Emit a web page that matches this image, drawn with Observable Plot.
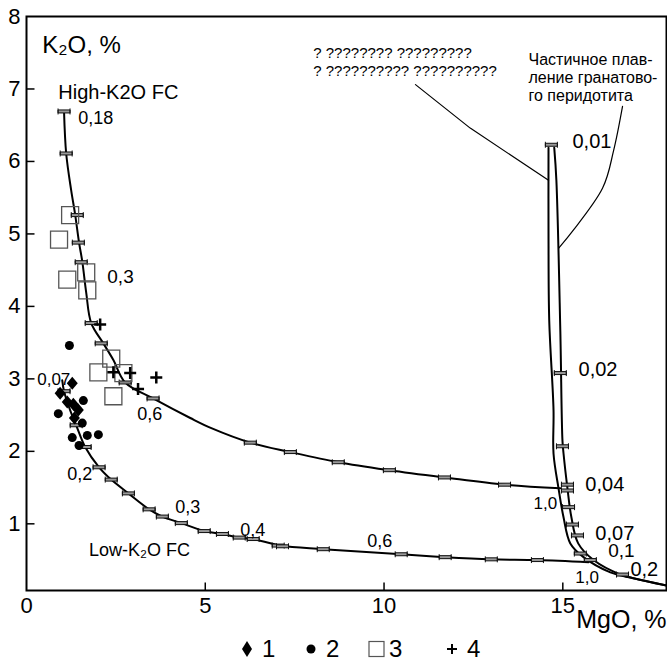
<!DOCTYPE html>
<html><head><meta charset="utf-8">
<script src="https://cdn.jsdelivr.net/npm/d3@7"></script>
<script src="https://cdn.jsdelivr.net/npm/@observablehq/plot@0.6"></script>
<style>
body{margin:0;background:#fff;font-family:"Liberation Sans",Arial,sans-serif;}
#wrap{position:relative;width:667px;height:664px;}
#legend{position:absolute;left:0;top:634px;width:667px;height:30px;}
</style></head><body><div id="wrap"><div id="chart"></div><div id="legend"></div></div>
<script>
// ---- axes ----
const xTicks = [0, 5, 10, 15];
const yTicks = [1, 2, 3, 4, 5, 6, 7, 8];

// ---- High-K2O fractional crystallization curve ----
const highX = [1.05,1.11,1.25,1.36,1.47,1.56,1.67,1.81,2.15,2.43,2.76,3.54,4.58,5.17,6.26,7.38,8.72,10.15,11.69,13.37,14.93];
const highY = [6.69,6.11,5.60,5.27,4.88,4.62,4.19,3.77,3.49,3.26,2.95,2.73,2.46,2.32,2.12,1.99,1.85,1.74,1.64,1.54,1.49];
const highTickX = [1.05,1.11,1.42,1.45,1.53,1.81,2.09,2.76,3.54,6.26,7.38,8.72,10.15,11.69,13.37];
const highTickY = [6.69,6.11,5.26,4.88,4.61,3.77,3.49,2.95,2.73,2.12,1.99,1.85,1.74,1.64,1.54];

// ---- Low-K2O fractional crystallization curve ----
const lowX = [1.00,1.05,1.22,1.39,1.64,2.03,2.37,2.85,3.43,3.80,4.33,4.97,5.48,5.95,6.34,7.10,8.30,10.48,11.71,13.00,14.29,15.72];
const lowY = [2.98,2.83,2.57,2.36,2.06,1.78,1.61,1.42,1.20,1.10,1.01,0.90,0.86,0.81,0.79,0.70,0.65,0.58,0.54,0.51,0.50,0.47];
const lowTickX = [1.05,1.39,1.64,2.03,2.37,2.85,3.43,3.80,4.33,4.97,5.48,5.95,6.34,7.04,7.16,8.30,10.48,11.71,13.00,14.29];
const lowTickY = [2.83,2.36,2.06,1.78,1.61,1.42,1.20,1.10,1.01,0.90,0.86,0.81,0.79,0.70,0.69,0.65,0.58,0.54,0.51,0.50];

// ---- Partial melting of garnet peridotite (double line) ----
const meltLX = [14.60,14.60,14.62,14.74,14.74,14.88,15.02,15.21,15.58,16.33,16.97,17.90];
const meltLY = [6.19,5.00,3.81,2.57,1.97,1.49,1.09,0.73,0.54,0.33,0.25,0.15];
const meltRX = [14.76,14.82,14.93,14.99,15.02,15.13,15.24,15.43,15.86,16.61,16.97,17.90];
const meltRY = [6.19,5.74,3.67,2.15,1.97,1.49,1.09,0.73,0.50,0.30,0.25,0.15];
const meltTickX = [14.68,14.93,14.99,15.13,15.13,15.16,15.27,15.41,15.49,15.77,16.67];
const meltTickY = [6.23,3.08,2.07,1.54,1.46,1.23,0.99,0.84,0.59,0.50,0.30];

// ---- samples ----
const s1X = [1.28,0.94,1.14,1.31,1.45,1.34];
const s1Y = [2.94,2.80,2.68,2.65,2.57,2.46];
const s2X = [1.20,0.89,1.59,1.56,1.28,1.70,2.01,1.47];
const s2Y = [3.46,2.52,2.70,2.39,2.19,2.22,2.23,2.08];
const s3X = [1.22,0.91,1.67,1.14,1.70,2.37,2.01,2.71,2.43];
const s3Y = [5.26,4.92,4.47,4.37,4.22,3.28,3.09,3.08,2.76];
const s4X = [2.06,2.43,2.90,3.63,3.12];
const s4Y = [3.75,3.09,3.08,3.02,2.86];

// ---- labels ----
const labelText = ["0,18","0,3","0,6","0,07","0,2","0,3","0,4","0,6","1,0","0,04","0,07","0,1","0,2","1,0","0,02","0,01"];
const labelX = [1.45,2.26,3.10,0.30,1.14,4.16,5.98,9.53,14.18,15.63,15.91,16.27,16.89,15.35,15.44,15.27];
const labelY = [6.59,4.41,2.51,2.99,1.68,1.23,0.91,0.76,1.28,1.54,0.87,0.63,0.37,0.26,3.13,6.28];
const labelSize = [18,19,18,17,18,18,18,18,17,20,20,19,20,17,20,20];

const titleText = ["K₂O, %","High-K2O FC","Low-K₂O FC"];
const titleX = [0.44,0.89,1.75];
const titleY = [7.60,6.95,0.63];
const titleSize = [24,20,18];

const noteQ = "? ???????? ?????????\n? ?????????? ??????????";
const noteQX = [8.02], noteQY = [7.38];
const noteRu = "Частичное плав-\nление гранатово-\nго перидотита";
const noteRuX = [14.04], noteRuY = [7.16];
const leaderAX = [10.88,12.41,14.60], leaderAY = [7.06,6.46,5.74];
const leaderBX = [16.67,16.42,16.11,14.88], leaderBY = [6.76,6.15,5.63,4.80];

const xLabel = "MgO, %";
const legendLabels = ["1","2","3","4"];

// ---- helpers ----
const pts = (xs, ys) => xs.map((x, i) => ({x, y: ys[i]}));
const vTick = {draw(c){c.moveTo(0,0);c.lineTo(0,-8);}};
const hTick = {draw(c){c.moveTo(0,0);c.lineTo(8,0);}};
const errBar = {draw(c){
  c.moveTo(-6,-3);c.lineTo(-6,3);c.moveTo(6,-3);c.lineTo(6,3);
  c.moveTo(-6,-1.5);c.lineTo(6,-1.5);c.lineTo(6,1.5);c.lineTo(-6,1.5);c.closePath();}};
const plusSym = {draw(c){c.moveTo(-6,0);c.lineTo(6,0);c.moveTo(0,-6);c.lineTo(0,6);}};
const diamondSym = {draw(c){c.moveTo(0,-6.5);c.lineTo(5.5,0);c.lineTo(0,6.5);c.lineTo(-5.5,0);c.closePath();}};
const squareSym = {draw(c){c.rect(-8.5,-8.5,17,17);}};
const yMin = 0.08;

const chart = Plot.plot({
  width: 667, height: 634,
  marginLeft: 26, marginRight: 1, marginTop: 16, marginBottom: 44,
  x: {domain: [0, 17.9]},
  y: {domain: [yMin, 8]},
  style: {fontFamily: '"Liberation Sans", Arial, sans-serif', fontSize: "22px", color: "black", background: "white"},
  marks: [
    Plot.axisX(xTicks, {tickSize: 0, tickPadding: 7, fontSize: 22, label: null, tickFormat: d => String(d)}),
    Plot.axisY(yTicks, {tickSize: 0, tickPadding: 6, fontSize: 22, label: null, tickFormat: d => String(d)}),
    Plot.dot(xTicks.slice(1), {x: d => d, y: () => yMin, symbol: vTick, stroke: "black", strokeWidth: 1.5}),
    Plot.dot(yTicks.slice(0, 7), {x: () => 0, y: d => d, symbol: hTick, stroke: "black", strokeWidth: 1.5}),
    // leaders
    Plot.line(pts(leaderAX, leaderAY), {x: "x", y: "y", stroke: "black", strokeWidth: 1.2}),
    Plot.line(pts(leaderBX, leaderBY), {x: "x", y: "y", stroke: "black", strokeWidth: 1.2, curve: "catmull-rom"}),
    // curves
    Plot.line(pts(highX, highY), {x: "x", y: "y", curve: "catmull-rom", stroke: "black", strokeWidth: 2}),
    Plot.line(pts(lowX, lowY), {x: "x", y: "y", curve: "catmull-rom", stroke: "black", strokeWidth: 2}),
    Plot.line(pts(meltLX, meltLY), {x: "x", y: "y", curve: "catmull-rom", stroke: "black", strokeWidth: 2}),
    Plot.line(pts(meltRX, meltRY), {x: "x", y: "y", curve: "catmull-rom", stroke: "black", strokeWidth: 2}),
    // error-bar marks
    Plot.dot(pts(highTickX, highTickY), {x: "x", y: "y", symbol: errBar, fill: "#999", stroke: "#111", strokeWidth: 1}),
    Plot.dot(pts(lowTickX, lowTickY), {x: "x", y: "y", symbol: errBar, fill: "#999", stroke: "#111", strokeWidth: 1}),
    Plot.dot(pts(meltTickX, meltTickY), {x: "x", y: "y", symbol: errBar, fill: "#999", stroke: "#111", strokeWidth: 1}),
    // samples
    Plot.dot(pts(s3X, s3Y), {x: "x", y: "y", symbol: squareSym, fill: "none", stroke: "#555", strokeWidth: 1.3}),
    Plot.dot(pts(s2X, s2Y), {x: "x", y: "y", r: 4.5, fill: "black"}),
    Plot.dot(pts(s1X, s1Y), {x: "x", y: "y", symbol: diamondSym, fill: "black"}),
    Plot.dot(pts(s4X, s4Y), {x: "x", y: "y", symbol: plusSym, stroke: "black", strokeWidth: 2.5}),
    // labels
    Plot.text(labelText, {x: (d, i) => labelX[i], y: (d, i) => labelY[i], text: d => d, fontSize: (d, i) => labelSize[i], textAnchor: "start"}),
    Plot.text(titleText, {x: (d, i) => titleX[i], y: (d, i) => titleY[i], text: d => d, fontSize: (d, i) => titleSize[i], textAnchor: "start"}),
    Plot.text([noteQ], {x: () => noteQX[0], y: () => noteQY[0], text: d => d, fontSize: 15, lineHeight: 1.2, textAnchor: "start"}),
    Plot.text([noteRu], {x: () => noteRuX[0], y: () => noteRuY[0], text: d => d, fontSize: 16, lineHeight: 1.125, textAnchor: "start"}),
    Plot.text([xLabel], {frameAnchor: "bottom-right", dy: 37, text: d => d, fontSize: 25, textAnchor: "end"}),
    Plot.frame({stroke: "black", strokeWidth: 2})
  ]
});
document.getElementById("chart").appendChild(chart);

// legend (below the SVG)
const legendSym = [
  '<polygon points="6,0 11,8 6,16 1,8" fill="black"/>',
  '<circle cx="6" cy="8" r="4.5" fill="black"/>',
  '<rect x="1" y="0.5" width="15" height="15" fill="none" stroke="#555" stroke-width="1.2"/>',
  '<path d="M1,8H11M6,3V13" stroke="black" stroke-width="2"/>'
];
const legendLeft = [241, 305, 368, 446];
const leg = document.getElementById("legend");
legendLabels.forEach((lab, i) => {
  const d = document.createElement("div");
  d.style.cssText = `position:absolute;left:${legendLeft[i]}px;top:0;height:30px;display:flex;align-items:center;gap:4px;font-size:24px;`;
  d.innerHTML = `<svg width="17" height="17" style="overflow:visible">${legendSym[i]}</svg><span>${lab}</span>`;
  leg.appendChild(d);
});
</script></body></html>
